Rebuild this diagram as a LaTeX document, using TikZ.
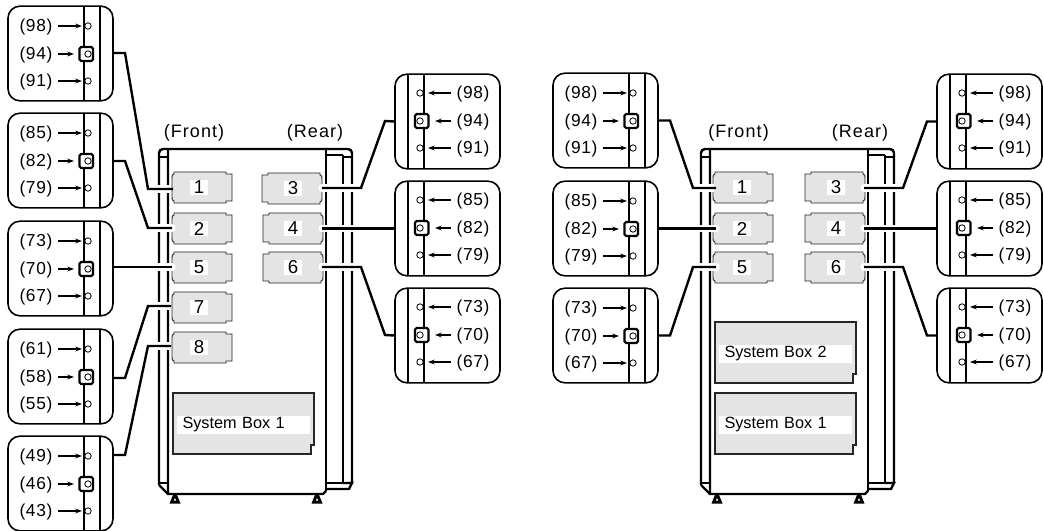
\documentclass[tikz,border=0pt]{standalone}
\usepackage{fontspec}
\setmainfont{Liberation Sans}
\newfontfamily\labfont[LetterSpace=4]{Liberation Sans}
\newfontfamily\headfont[LetterSpace=6]{Liberation Sans}
\usetikzlibrary{arrows.meta}
\definecolor{slotgray}{HTML}{E4E4E4}
\tikzset{
  x=0.75pt,y=-0.75pt,
  panelbox/.style={draw=black,line width=1.2pt,rounded corners=9pt,minimum width=78.75pt,minimum height=71pt,inner sep=0pt,fill=white},
  panelline/.style={line width=1.2pt},
  pin/.style={draw=black,fill=white,line width=0.6pt},
  tag/.style={font=\labfont\fontsize{13pt}{15pt}\selectfont,inner sep=0pt},
  head/.style={font=\headfont\fontsize{13.5pt}{15pt}\selectfont,inner sep=0pt},
  ptr/.style={line width=0.8pt,-{Stealth[length=5pt,width=3.6pt]}},
  keep/.style={draw=black,line width=1.6pt,fill=white,rounded corners=1.2pt},
  wire/.style={line width=1.8pt,line join=miter},
  halo/.style={white,line width=5.5pt,line cap=round},
  halobutt/.style={white,line width=5.5pt},
  slotbody/.style={fill=slotgray,draw=black!85,line width=0.7pt},
  slotnum/.style={fill=white,inner sep=0pt,minimum width=13.5pt,minimum height=11.5pt,font=\fontsize{14pt}{16pt}\selectfont},
  boxname/.style={fill=white,inner sep=0pt,minimum height=13.5pt,font=\fontsize{12.2pt}{14pt}\selectfont},
  thick cab/.style={line width=1.8pt},
  thin cab/.style={line width=0.8pt},
}
% left panel: name, x, top, three labels
\newcommand\lpanel[6]{%
  \node[panelbox] (#1) at (#2+52.5,#3+47.5) {};
  \draw[panelline] (#2+76,#3) -- (#2+76,#3+95) (#2+92,#3) -- (#2+92,#3+95);
  \draw[pin] (#2+80,#3+20) circle (2.4pt);
  \draw[pin] (#2+80,#3+75) circle (2.4pt);
  \draw[keep] (#2+71.5,#3+41) rectangle (#2+85,#3+55);
  \draw[pin] (#2+80,#3+48) circle (2.4pt);
  \node[tag] at (#2+28,#3+21) {#4};
  \node[tag] at (#2+28,#3+49) {#5};
  \node[tag] at (#2+28,#3+76) {#6};
  \draw[ptr] (#2+50,#3+20) -- (#2+74,#3+20);
  \draw[ptr] (#2+50,#3+48) -- (#2+66,#3+48);
  \draw[ptr] (#2+50,#3+75) -- (#2+74,#3+75);
}
% right panel
\newcommand\rpanel[6]{%
  \node[panelbox] (#1) at (#2+52.5,#3+47.5) {};
  \draw[panelline] (#2+13,#3) -- (#2+13,#3+95) (#2+29,#3) -- (#2+29,#3+95);
  \draw[pin] (#2+25,#3+19) circle (2.4pt);
  \draw[pin] (#2+25,#3+74) circle (2.4pt);
  \draw[keep] (#2+20,#3+40) rectangle (#2+33.5,#3+54);
  \draw[pin] (#2+25,#3+47) circle (2.4pt);
  \node[tag] at (#2+78,#3+20) {#4};
  \node[tag] at (#2+78,#3+48) {#5};
  \node[tag] at (#2+78,#3+75) {#6};
  \draw[ptr] (#2+56,#3+19) -- (#2+33,#3+19);
  \draw[ptr] (#2+56,#3+47) -- (#2+40,#3+47);
  \draw[ptr] (#2+56,#3+74) -- (#2+33,#3+74);
}
% slot: name, x of notched side, top, direction, number, label centre x
\newcommand\slotbox[6]{%
  \begin{scope}[shift={(#2,#3)},xscale=#4]
    \path[slotbody] (3,0) -- (55,0) -- (55,2) -- (61,2) -- (61,29) -- (55,29) -- (55,31)
      -- (3,31) -- (3,29) .. controls (1,28) .. (1,25) -- (1,6) .. controls (1,3) .. (3,2) -- cycle;
  \end{scope}
  \node[slotnum] (#1) at (#6,#3+15.5) {#5};
}
% system box: name, x, top, text
\newcommand\sysbox[4]{%
  \path[fill=slotgray,draw=black!85,line width=0.8pt] (#2,#3) -- (#2+141,#3) -- (#2+141,#3+52) -- (#2+138,#3+52) -- (#2+138,#3+61) -- (#2,#3+61) -- cycle;
  \node[boxname,minimum width=99.75pt,text width=91.5pt,align=left] (#1) at (#2+70.5,#3+32) {#4};
}
\newcommand\cabinet[1]{%
  \begin{scope}[shift={(#1,0)}]
    \draw[thick cab,rounded corners=3pt] (159,485) -- (159,149) -- (352,149) -- (352,483);
    \draw[thick cab] (168,149) -- (168,494) -- (323,494) -- (326,491);
    \draw[thick cab] (159,485) -- (168,494);
    \draw[thick cab] (159,157) -- (168,157);
    \draw[thin cab] (159,483) -- (168,483);
    \draw[thin cab] (326,149) -- (326,491);
    \draw[thin cab] (326,155) -- (343,155);
    \draw[thick cab] (343,157) -- (352,157);
    \draw[thick cab] (343,155) -- (343,483);
    \draw[thin cab] (326,483) -- (343,483);
    \draw[thick cab] (343,483) -- (352,483) -- (349,489) -- (326,489);
    \fill (173,495) -- (177,495) -- (180.5,503.5) -- (169.5,503.5) -- cycle;
    \fill (315,495) -- (319,495) -- (322.5,503.5) -- (311.5,503.5) -- cycle;
    \fill[white] (175,498) -- (176.2,500.5) -- (173.8,500.5) -- cycle;
    \fill[white] (317,498) -- (318.2,500.5) -- (315.8,500.5) -- cycle;
  \end{scope}
}
\begin{document}
\begin{tikzpicture}
\useasboundingbox (0,0) rectangle (1043,531);
\fill[white] (0,0) rectangle (1043,531);

\cabinet{0}
\cabinet{542}

\node[head] (fronta) at (194,133) {(Front)};
\node[head] (reara) at (315,133) {(Rear)};
\node[head] (frontb) at (738.5,133) {(Front)};
\node[head] (rearb) at (860,133) {(Rear)};

% slots, first cabinet
\slotbox{a1}{171}{172}{1}{1}{199}
\slotbox{a2}{171}{213}{1}{2}{199}
\slotbox{a5}{171}{252}{1}{5}{199}
\slotbox{a7}{171}{292}{1}{7}{199}
\slotbox{a8}{171}{332}{1}{8}{199}
\slotbox{a3}{323}{173}{-1}{3}{293}
\slotbox{a4}{324}{213}{-1}{4}{293}
\slotbox{a6}{324}{252}{-1}{6}{293}
\sysbox{asys}{173}{393}{System Box 1}

% slots, second cabinet
\slotbox{b1}{712}{172}{1}{1}{742}
\slotbox{b2}{712}{213}{1}{2}{742}
\slotbox{b5}{712}{252}{1}{5}{742}
\slotbox{b3}{866}{172}{-1}{3}{836}
\slotbox{b4}{866}{213}{-1}{4}{836}
\slotbox{b6}{866}{252}{-1}{6}{836}
\sysbox{bsys2}{715}{322}{System Box 2}
\sysbox{bsys1}{715}{393}{System Box 1}

% panels
\lpanel{pa}{8}{6}{(98)}{(94)}{(91)}
\lpanel{pb}{8}{113}{(85)}{(82)}{(79)}
\lpanel{pc}{8}{221}{(73)}{(70)}{(67)}
\lpanel{pd}{8}{329}{(61)}{(58)}{(55)}
\lpanel{pe}{8}{436}{(49)}{(46)}{(43)}
\rpanel{qa}{395}{74}{(98)}{(94)}{(91)}
\rpanel{qb}{395}{181}{(85)}{(82)}{(79)}
\rpanel{qc}{395}{288}{(73)}{(70)}{(67)}
\lpanel{ra}{553}{73}{(98)}{(94)}{(91)}
\lpanel{rb}{553}{181}{(85)}{(82)}{(79)}
\lpanel{rc}{553}{288}{(73)}{(70)}{(67)}
\rpanel{ta}{937}{74}{(98)}{(94)}{(91)}
\rpanel{tb}{937}{181}{(85)}{(82)}{(79)}
\rpanel{tc}{937}{288}{(73)}{(70)}{(67)}

% connector ends
\coordinate (ea1) at (173,189);
\coordinate (ea2) at (172,228);
\coordinate (ea5) at (172,267);
\coordinate (ea7) at (171,306);
\coordinate (ea8) at (171,346);
\coordinate (ea3) at (322,188);
\coordinate (ea4) at (322,228.5);
\coordinate (ea6) at (322,267);
\coordinate (eb1) at (716,188);
\coordinate (eb2) at (716,228.5);
\coordinate (eb5) at (716,267);
\coordinate (eb3) at (864,188);
\coordinate (eb4) at (864,228.5);
\coordinate (eb6) at (864,267);
\coordinate (pcout) at (113,267);
\coordinate (peout) at (113,455);
\coordinate (pbout) at (113,161);
\coordinate (paout) at (113,53);
\coordinate (pdout) at (113,378);

% white gaps cut in the cabinet walls
\draw[halobutt] (152,189) -- (170,189);
\draw[halo] (152,228) -- (ea2);
\draw[halo] (152,267) -- (ea5);
\draw[halobutt] (152,306) -- (170,306);
\draw[halobutt] (152,346) -- (170,346);
\draw[halo] (ea3) -- (358,188);
\draw[halo] (ea4) -- (358,228.5);
\draw[halo] (ea6) -- (358,267);
\draw[halobutt] (696,188) -- (714,188);
\draw[halo] (696,228.5) -- (eb2);
\draw[halo] (696,267) -- (eb5);
\draw[halo] (eb3) -- (900,188);
\draw[halo] (eb4) -- (900,228.5);
\draw[halo] (eb6) -- (900,267);

% connectors
\draw[wire] (paout) -- (125,53) -- (148,189) -- (ea1);
\draw[wire] (pbout) -- (125,161) -- (148,228) -- (ea2);
\draw[wire] (pcout) -- (ea5);
\draw[wire] (pdout) -- (125,378) -- (148,306) -- (ea7);
\draw[wire] (peout) -- (125,455) -- (148,346) -- (ea8);
\draw[wire] (ea3) -- (361,188) -- (385,121) -- (qa.west);
\draw[wire] (ea4) -- (qb.west);
\draw[wire] (ea6) -- (361,267) -- (385,335) -- (qc.west);
\draw[wire] (ra.east) -- (670,120.5) -- (693,188) -- (eb1);
\draw[wire] (rb.east) -- (eb2);
\draw[wire] (rc.east) -- (670,335.5) -- (693,267) -- (eb5);
\draw[wire] (eb3) -- (903,188) -- (927,121.5) -- (ta.west);
\draw[wire] (eb4) -- (tb.west);
\draw[wire] (eb6) -- (903,267) -- (927,335.5) -- (tc.west);
\end{tikzpicture}
\end{document}
